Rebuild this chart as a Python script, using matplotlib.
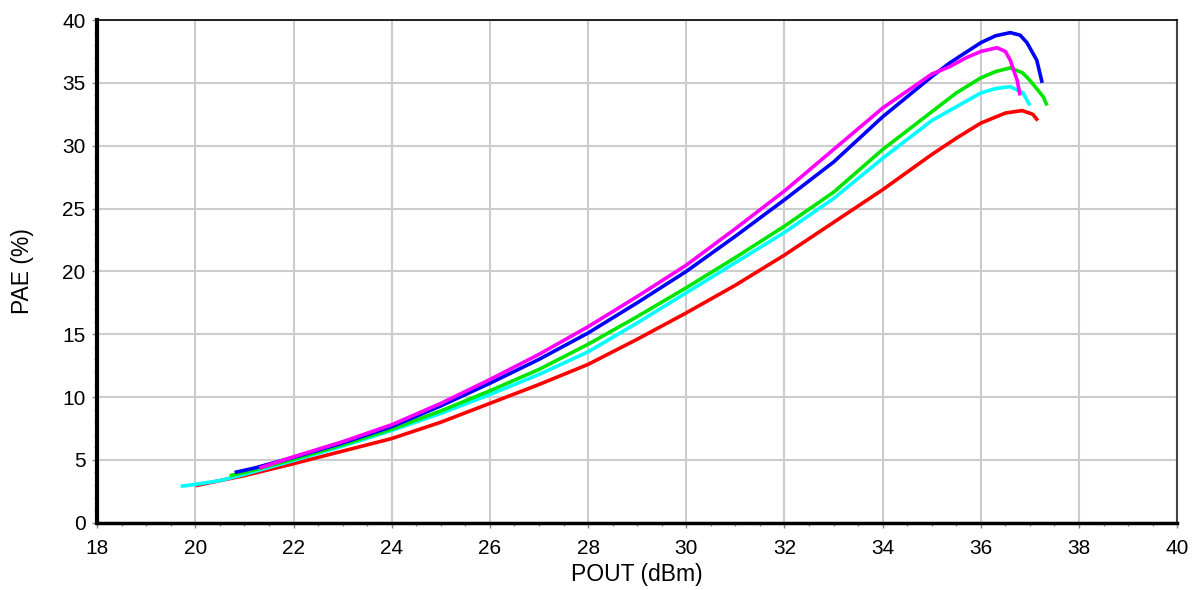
import numpy as np
import matplotlib
matplotlib.use("Agg")
import matplotlib.pyplot as plt
from matplotlib.ticker import MultipleLocator

# valeurs : POUT (dBm) -> PAE (%)
red_x = [20, 21, 22, 23, 24, 25, 26, 27, 28, 29, 30, 31, 32, 33, 34, 35, 35.5, 36, 36.5, 36.84, 37.06, 37.16]
red_y = [2.95, 3.75, 4.7, 5.7, 6.7, 8.0, 9.5, 11.0, 12.6, 14.6, 16.7, 18.9, 21.3, 23.9, 26.5, 29.3, 30.6, 31.8, 32.6, 32.8, 32.5, 32.0]

cyan_x = [19.7, 20, 20.5, 21, 22, 23, 24, 25, 26, 27, 28, 29, 30, 31, 32, 33, 34, 35, 35.5, 36, 36.3, 36.6, 36.86, 37.0]
cyan_y = [2.9, 3.05, 3.35, 3.85, 4.95, 6.1, 7.35, 8.7, 10.2, 11.8, 13.6, 15.9, 18.3, 20.7, 23.1, 25.8, 29.0, 32.0, 33.1, 34.2, 34.55, 34.7, 34.2, 33.2]

green_x = [20.7, 21, 22, 23, 24, 25, 26, 27, 28, 29, 30, 31, 32, 33, 34, 35, 35.5, 36, 36.3, 36.6, 36.85, 37.0, 37.27, 37.35]
green_y = [3.75, 4.0, 5.05, 6.2, 7.45, 8.9, 10.5, 12.2, 14.2, 16.4, 18.7, 21.1, 23.6, 26.3, 29.7, 32.7, 34.2, 35.4, 35.9, 36.2, 35.8, 35.2, 33.9, 33.2]

blue_x = [20.8, 21.2, 22, 23, 24, 25, 26, 27, 28, 29, 30, 31, 32, 33, 34, 35, 35.37, 36, 36.3, 36.6, 36.8, 36.94, 37.14, 37.25]
blue_y = [4.0, 4.35, 5.2, 6.35, 7.65, 9.3, 11.1, 13.0, 15.1, 17.5, 20.0, 22.8, 25.7, 28.7, 32.3, 35.5, 36.6, 38.2, 38.75, 39.0, 38.8, 38.2, 36.8, 35.0]

mag_x = [21.3, 22, 23, 24, 25, 26, 27, 28, 29, 30, 31, 32, 33, 34, 35, 35.37, 35.7, 36, 36.33, 36.5, 36.6, 36.74, 36.8]
mag_y = [4.35, 5.25, 6.45, 7.8, 9.5, 11.4, 13.4, 15.6, 18.0, 20.5, 23.4, 26.4, 29.7, 33.0, 35.7, 36.3, 37.0, 37.5, 37.8, 37.5, 36.8, 35.2, 34.0]

series = [
    (red_x, red_y, "#ff0000"),
    (cyan_x, cyan_y, "#00ffff"),
    (green_x, green_y, "#00e600"),
    (blue_x, blue_y, "#0000ff"),
    (mag_x, mag_y, "#ff00ff"),
]

plt.rcParams['font.family'] = ['Liberation Sans', 'DejaVu Sans']

fig = plt.figure(figsize=(12, 5.9), dpi=100)
ax = fig.add_axes([0.081, 0.114, 0.9, 0.852])

for x, y, c in series:
    ax.plot(x, y, color=c, lw=2.6, solid_capstyle='butt', solid_joinstyle='round')

ax.set_xlim(18, 40)
ax.set_ylim(0, 40)
ax.xaxis.set_major_locator(MultipleLocator(2))
ax.xaxis.set_minor_locator(MultipleLocator(0.5))
ax.yaxis.set_major_locator(MultipleLocator(5))
ax.yaxis.set_minor_locator(MultipleLocator(1))
ax.grid(True, which='major', color='#cccccc', lw=1.5)
ax.set_axisbelow(True)

ax.tick_params(which='both', direction='out', color='#888888', width=1, labelsize=15)
ax.tick_params(axis='x', which='major', length=3.5, pad=8)
ax.tick_params(axis='y', which='major', length=3.5, pad=5)
ax.tick_params(which='minor', length=2.5)

ax.spines['left'].set_linewidth(3)
ax.spines['bottom'].set_linewidth(2.5)
ax.spines['top'].set_linewidth(1.2)
ax.spines['right'].set_linewidth(1.5)
ax.spines['right'].set_color('#444444')

ax.set_xlabel("POUT (dBm)", fontsize=16.5, labelpad=4)
ax.set_ylabel("PAE (%)", fontsize=16.5, labelpad=20)

fig.savefig("out.png", dpi=100)
